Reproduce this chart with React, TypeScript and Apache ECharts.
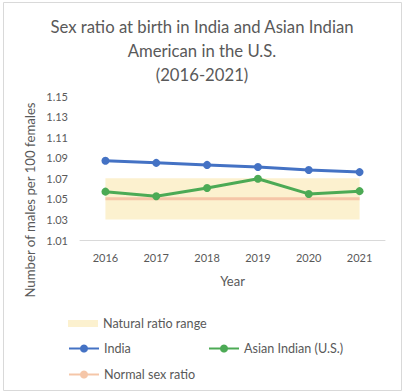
import React, { useEffect, useRef } from "react";
import * as echarts from "echarts";

const years = ["2016", "2017", "2018", "2019", "2020", "2021"];
const india = [1.087, 1.085, 1.083, 1.081, 1.078, 1.076];
const asianIndian = [1.057, 1.0525, 1.0605, 1.0695, 1.0548, 1.0575];
const normalRatio = [1.05, 1.05, 1.05, 1.05, 1.05, 1.05];
const rangeLow = [1.03, 1.03, 1.03, 1.03, 1.03, 1.03];
const rangeHigh = [1.07, 1.07, 1.07, 1.07, 1.07, 1.07];

const FONT = "Lato";
const GREY = "#595959";

function fitSize(text: string, targetWidth: number, fallback: number): number {
  try {
    const c = document.createElement("canvas").getContext("2d");
    if (!c) return fallback;
    c.font = `100px ${FONT}`;
    const w = c.measureText(text).width;
    if (!w) return fallback;
    return Math.round((100 * targetWidth) / w * 10) / 10;
  } catch {
    return fallback;
  }
}

export default function App() {
  const ref = useRef<HTMLDivElement>(null);
  useEffect(() => {
    document.body.style.margin = "0";
    const chart = echarts.init(ref.current!, null, { renderer: "svg" });
    const titleSize = fitSize("Sex ratio at birth in India and Asian Indian", 304, 15.5);
    const yTitleSize = fitSize("Number of males per 100 females", 196, 13.5);
    const legendSize = fitSize("Natural ratio range", 104, 12);
    const legendBase = {
      orient: "horizontal" as const,
      itemWidth: 30,
      itemHeight: 10,
      textStyle: { color: GREY, fontSize: legendSize, fontFamily: FONT },
      selectedMode: false,
    };
    chart.setOption({
      animation: false,
      textStyle: { fontFamily: FONT },
      title: {
        text: "Sex ratio at birth in India and Asian Indian\nAmerican in the U.S.\n(2016-2021)",
        left: "center",
        top: 10,
        textStyle: { color: GREY, fontSize: titleSize, fontWeight: "normal", lineHeight: 24, fontFamily: FONT },
      },
      graphic: [
        {
          type: "rect",
          shape: { x: 3.5, y: 2.5, width: 398, height: 388 },
          style: { fill: "none", stroke: "#d9d9d9", lineWidth: 1 },
          silent: true,
        },
        {
          type: "text",
          x: 30,
          y: 200,
          rotation: Math.PI / 2,
          style: {
            text: "Number of males per 100 females",
            fill: GREY,
            fontSize: yTitleSize,
            fontFamily: FONT,
            align: "center",
            verticalAlign: "middle",
          },
          silent: true,
        },
      ],
      grid: { left: 80, right: 19, top: 96, bottom: 152, containLabel: false },
      xAxis: {
        type: "category",
        data: years,
        name: "Year",
        nameLocation: "middle",
        nameGap: 34,
        nameTextStyle: { color: GREY, fontSize: 13, fontFamily: FONT },
        axisLine: { lineStyle: { color: "#d9d9d9" } },
        axisTick: { show: false },
        axisLabel: { color: GREY, fontSize: 11, margin: 12, fontFamily: FONT },
      },
      yAxis: {
        type: "value",
        min: 1.01,
        max: 1.15,
        interval: 0.02,
        axisLine: { show: false },
        axisTick: { show: false },
        splitLine: { show: false },
        axisLabel: { color: GREY, fontSize: 11, margin: 12, fontFamily: FONT, formatter: (v: number) => v.toFixed(2) },
      },
      legend: [
        { ...legendBase, left: 63, top: 312, data: [{ name: "Natural ratio range", icon: "rect", itemStyle: { color: "#fcf1cf" } }], itemHeight: 7 },
        { ...legendBase, left: 63, top: 337, data: ["India"] },
        { ...legendBase, left: 203, top: 337, data: ["Asian Indian (U.S.)"] },
        { ...legendBase, left: 63, top: 363, data: ["Normal sex ratio"] },
      ],
      series: [
        {
          name: "rangeBase",
          type: "line",
          stack: "range",
          data: rangeLow,
          symbol: "none",
          lineStyle: { opacity: 0 },
          silent: true,
        },
        {
          name: "Natural ratio range",
          type: "line",
          stack: "range",
          data: rangeHigh.map((h, i) => +(h - rangeLow[i]).toFixed(4)),
          symbol: "none",
          lineStyle: { opacity: 0 },
          itemStyle: { color: "#fcf1cf" },
          areaStyle: { color: "#fcf1cf", opacity: 1 },
          silent: true,
        },
        {
          name: "Normal sex ratio",
          type: "line",
          data: normalRatio,
          symbol: "none",
          lineStyle: { color: "#f5c6a8", width: 3 },
          itemStyle: { color: "#f5c6a8" },
        },
        {
          name: "India",
          type: "line",
          data: india,
          symbol: "circle",
          symbolSize: 8,
          lineStyle: { color: "#4472c4", width: 3 },
          itemStyle: { color: "#4472c4" },
        },
        {
          name: "Asian Indian (U.S.)",
          type: "line",
          data: asianIndian,
          symbol: "circle",
          symbolSize: 8,
          lineStyle: { color: "#4caa55", width: 3 },
          itemStyle: { color: "#4caa55" },
        },
      ],
    });
    return () => chart.dispose();
  }, []);
  return <div ref={ref} style={{ width: 404, height: 392 }} />;
}
